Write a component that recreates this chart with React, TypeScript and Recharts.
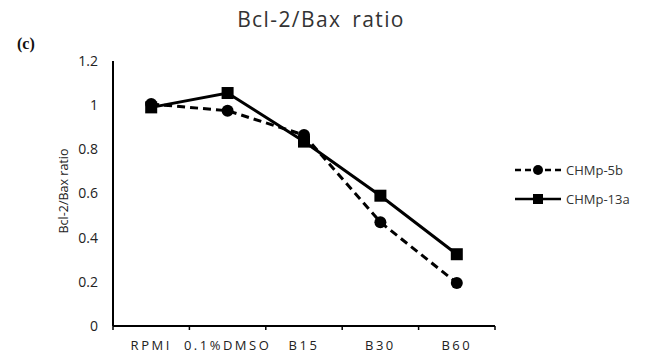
import React from "react";
import { LineChart, Line, XAxis, YAxis } from "recharts";

const categories = ["RPMI", "0.1%DMSO", "B15", "B30", "B60"];
const chmp5b = [1.005, 0.975, 0.865, 0.47, 0.195];
const chmp13a = [0.99, 1.055, 0.835, 0.59, 0.325];
const yTicks = [0, 0.2, 0.4, 0.6, 0.8, 1, 1.2];
const edgeTicks = [0, 1, 2, 3, 4, 5];

const data = categories.map((name, i) => ({
  name,
  CHMp5b: chmp5b[i],
  CHMp13a: chmp13a[i],
}));

const FONT = "'Open Sans', 'Noto Sans', sans-serif";

const SquareDot = (props: any) => {
  const { cx, cy } = props;
  if (cx == null || cy == null) return null;
  return <rect x={cx - 6} y={cy - 6} width={12} height={12} fill="#000" />;
};

const CircleDot = (props: any) => {
  const { cx, cy } = props;
  if (cx == null || cy == null) return null;
  return <circle cx={cx} cy={cy} r={6} fill="#000" />;
};

const NoTick = () => <g />;

const legendItems = [
  { label: "CHMp-5b", dash: "6 4", marker: "circle" },
  { label: "CHMp-13a", dash: undefined, marker: "square" },
];

const LegendBox = () => (
  <svg
    width={130}
    height={60}
    style={{ position: "absolute", left: 513, top: 160 }}
  >
    {legendItems.map((it, i) => {
      const y = 10 + i * 29;
      return (
        <g key={it.label}>
          <line
            x1={2}
            x2={48}
            y1={y}
            y2={y}
            stroke="#000"
            strokeWidth={2.5}
            strokeDasharray={it.dash}
          />
          {it.marker === "circle" ? (
            <circle cx={25} cy={y} r={5} fill="#000" />
          ) : (
            <rect x={20} y={y - 5} width={10} height={10} fill="#000" />
          )}
          <text x={53} y={y + 4.5} fontSize={13} fontFamily={FONT} fill="#333">
            {it.label}
          </text>
        </g>
      );
    })}
  </svg>
);

export default function App() {
  return (
    <div
      style={{
        position: "fixed",
        left: 0,
        top: 0,
        width: 648,
        height: 354,
        background: "#fff",
      }}
    >
      <div
        style={{
          position: "absolute",
          left: 321,
          top: 5,
          transform: "translateX(-50%)",
          whiteSpace: "nowrap",
          fontFamily: FONT,
          fontSize: 21,
          letterSpacing: 1.4,
          wordSpacing: 4,
          color: "#333",
        }}
      >
        Bcl-2/Bax ratio
      </div>
      <div
        style={{
          position: "absolute",
          left: 17,
          top: 35,
          fontFamily: "'Liberation Serif', serif",
          fontWeight: "bold",
          fontSize: 16,
          color: "#111",
        }}
      >
        (c)
      </div>
      <div
        style={{
          position: "absolute",
          left: 63,
          top: 191,
          transform: "translate(-50%, -50%) rotate(-90deg)",
          whiteSpace: "nowrap",
          fontFamily: FONT,
          fontSize: 12.5,
          color: "#222",
        }}
      >
        Bcl-2/Bax ratio
      </div>
      <LineChart
        width={648}
        height={354}
        data={data}
        margin={{ top: 61, right: 153, bottom: 0, left: 0 }}
      >
        <XAxis
          xAxisId="cat"
          dataKey="name"
          scale="band"
          axisLine={false}
          tickLine={false}
          tickSize={0}
          tickMargin={0}
          height={27}
          interval={0}
          tick={{
            fill: "#222",
            fontSize: 13,
            fontFamily: FONT,
            letterSpacing: 2.5,
            dy: 14,
          }}
        />
        <XAxis
          xAxisId="a_edges"
          type="number"
          dataKey={() => 0}
          domain={[0, 5]}
          ticks={edgeTicks}
          tick={<NoTick />}
          tickLine={{ stroke: "#000", strokeWidth: 1.5 }}
          tickSize={4}
          axisLine={{ stroke: "#000", strokeWidth: 2 }}
          height={1}
        />
        <YAxis
          domain={[0, 1.2]}
          ticks={yTicks}
          width={113}
          tickLine={false}
          tickSize={0}
          tickMargin={15}
          axisLine={{ stroke: "#000", strokeWidth: 2 }}
          tick={{ fill: "#222", fontSize: 14, fontFamily: FONT }}
          tickFormatter={(v) => String(v)}
        />
        <YAxis
          yAxisId="inner"
          mirror
          domain={[0, 1.2]}
          ticks={yTicks}
          width={1}
          axisLine={false}
          tickLine={{ stroke: "#000", strokeWidth: 1.5 }}
          tickSize={4}
          tick={<NoTick />}
        />
        <Line
          xAxisId="cat"
          dataKey="CHMp5b"
          stroke="#000"
          strokeWidth={3}
          strokeDasharray="8 5"
          dot={<CircleDot />}
          isAnimationActive={false}
        />
        <Line
          xAxisId="cat"
          dataKey="CHMp13a"
          stroke="#000"
          strokeWidth={3}
          dot={<SquareDot />}
          isAnimationActive={false}
        />
      </LineChart>
      <LegendBox />
    </div>
  );
}
